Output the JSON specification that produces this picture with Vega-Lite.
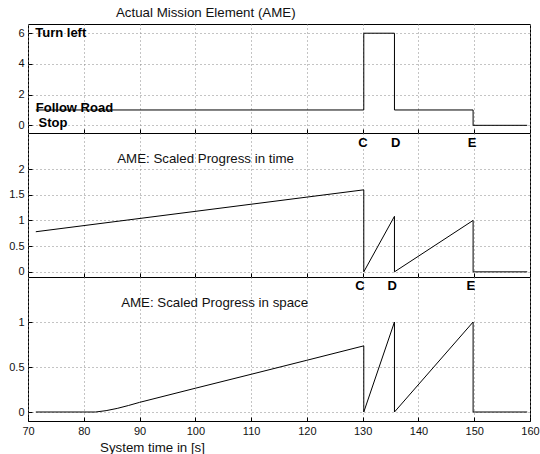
{
  "$schema": "https://vega.github.io/schema/vega-lite/v6.json",
  "autosize": {"type": "pad"},
  "padding": {"left": 8, "top": 5, "right": 0, "bottom": 0},
  "background": "white",
  "spacing": 0,
  "bounds": "flush",
  "config": {
    "font": "Liberation Sans",
    "view": {"stroke": "black", "strokeWidth": 1},
    "axis": {
      "domain": false,
      "gridColor": "#888",
      "gridDash": [1, 3],
      "gridOpacity": 1,
      "gridWidth": 1,
      "tickColor": "black",
      "tickSize": -4,
      "labelPadding": 8,
      "labelFont": "Liberation Sans",
      "labelFontSize": 11,
      "labelColor": "#111",
      "labelOverlap": false,
      "labelFlush": false,
      "titleFont": "Liberation Sans",
      "titleFontWeight": "normal",
      "titleColor": "#111"
    },
    "title": {"font": "Liberation Sans", "fontWeight": "normal", "fontSize": 13.3, "color": "#111"}
  },
  "datasets": {
    "ame": [
      {"i": 0, "t": 71.4, "v": 1},
      {"i": 1, "t": 130.2, "v": 1},
      {"i": 2, "t": 130.2, "v": 6},
      {"i": 3, "t": 135.7, "v": 6},
      {"i": 4, "t": 135.7, "v": 1},
      {"i": 5, "t": 149.8, "v": 1},
      {"i": 6, "t": 149.8, "v": 0},
      {"i": 7, "t": 159.5, "v": 0}
    ],
    "ptime": [
      {"i": 0, "t": 71.4, "v": 0.78},
      {"i": 1, "t": 130.2, "v": 1.595},
      {"i": 2, "t": 130.2, "v": 0},
      {"i": 3, "t": 135.7, "v": 1.08},
      {"i": 4, "t": 135.7, "v": 0},
      {"i": 5, "t": 149.8, "v": 1.0},
      {"i": 6, "t": 149.8, "v": 0},
      {"i": 7, "t": 159.5, "v": 0}
    ],
    "pspace": [
      {"i": 0, "t": 71.4, "v": 0},
      {"i": 1, "t": 82.1, "v": 0},
      {"i": 2, "t": 84, "v": 0.015},
      {"i": 3, "t": 86, "v": 0.04},
      {"i": 4, "t": 88, "v": 0.072},
      {"i": 5, "t": 90, "v": 0.107},
      {"i": 6, "t": 100, "v": 0.264},
      {"i": 7, "t": 110, "v": 0.419},
      {"i": 8, "t": 120, "v": 0.575},
      {"i": 9, "t": 130.2, "v": 0.735},
      {"i": 10, "t": 130.2, "v": 0},
      {"i": 11, "t": 135.7, "v": 1.0},
      {"i": 12, "t": 135.7, "v": 0},
      {"i": 13, "t": 149.8, "v": 1.0},
      {"i": 14, "t": 149.8, "v": 0},
      {"i": 15, "t": 159.5, "v": 0}
    ],
    "lab_top": [
      {"t": 71.3, "v": 6, "txt": "Turn left"},
      {"t": 71.4, "v": 1.1, "txt": "Follow Road"},
      {"t": 71.9, "v": 0.15, "txt": "Stop"}
    ],
    "lab_mid": [
      {"t": 130.05, "v": 2.5, "txt": "C"},
      {"t": 135.9, "v": 2.5, "txt": "D"},
      {"t": 149.6, "v": 2.5, "txt": "E"}
    ],
    "lab_bot": [
      {"t": 129.5, "v": 1.4, "txt": "C"},
      {"t": 135.3, "v": 1.4, "txt": "D"},
      {"t": 149.4, "v": 1.4, "txt": "E"}
    ],
    "cap_mid": [{"t": 86, "v": 2.2, "txt": "AME: Scaled Progress in time"}],
    "cap_bot": [{"t": 86.7, "v": 1.21, "txt": "AME: Scaled Progress in space"}]
  },
  "vconcat": [
    {
      "width": 502,
      "height": 109,
      "title": {"text": "Actual Mission Element (AME)", "anchor": "start", "dx": 88, "offset": 5, "frame": "group"},
      "encoding": {
        "x": {"field": "t", "type": "quantitative", "scale": {"domain": [70, 160], "nice": false, "zero": false},
              "axis": {"values": [70, 80, 90, 100, 110, 120, 130, 140, 150, 160], "labels": false, "title": null, "grid": true}},
        "y": {"field": "v", "type": "quantitative", "scale": {"domain": [-0.5, 6.6], "nice": false},
              "axis": {"values": [0, 2, 4, 6], "format": "d", "title": null, "grid": true}}
      },
      "layer": [
        {
          "data": {"name": "ame"},
          "mark": {"type": "line", "color": "black", "strokeWidth": 1},
          "encoding": {"order": {"field": "i"}}
        },
        {
          "data": {"name": "lab_top"},
          "mark": {"type": "text", "align": "left", "baseline": "middle", "fontWeight": "bold", "fontSize": 13, "color": "black"},
          "encoding": {"text": {"field": "txt"}}
        }
      ]
    },
    {
      "width": 502,
      "height": 144,
      "encoding": {
        "x": {"field": "t", "type": "quantitative", "scale": {"domain": [70, 160], "nice": false, "zero": false},
              "axis": {"values": [70, 80, 90, 100, 110, 120, 130, 140, 150, 160], "labels": false, "title": null, "grid": true}},
        "y": {"field": "v", "type": "quantitative", "scale": {"domain": [-0.1, 2.7], "nice": false},
              "axis": {"values": [0, 0.5, 1, 1.5, 2], "format": "~g", "title": null, "grid": true}}
      },
      "layer": [
        {
          "data": {"name": "ptime"},
          "mark": {"type": "line", "color": "black", "strokeWidth": 1},
          "encoding": {"order": {"field": "i"}}
        },
        {
          "data": {"name": "lab_mid"},
          "mark": {"type": "text", "align": "center", "baseline": "middle", "fontWeight": "bold", "fontSize": 13, "color": "black"},
          "encoding": {"text": {"field": "txt"}}
        },
        {
          "data": {"name": "cap_mid"},
          "mark": {"type": "text", "align": "left", "baseline": "middle", "fontSize": 13.3, "color": "#111"},
          "encoding": {"text": {"field": "txt"}}
        }
      ]
    },
    {
      "width": 502,
      "height": 144,
      "encoding": {
        "x": {"field": "t", "type": "quantitative", "scale": {"domain": [70, 160], "nice": false, "zero": false},
              "axis": {"values": [70, 80, 90, 100, 110, 120, 130, 140, 150, 160], "title": "System time in [s]", "titleFontSize": 13.3, "titleX": 124, "titleAlign": "center", "titlePadding": 4, "grid": true}},
        "y": {"field": "v", "type": "quantitative", "scale": {"domain": [-0.1, 1.5], "nice": false},
              "axis": {"values": [0, 0.5, 1], "format": "~g", "title": null, "grid": true}}
      },
      "layer": [
        {
          "data": {"name": "pspace"},
          "mark": {"type": "line", "color": "black", "strokeWidth": 1},
          "encoding": {"order": {"field": "i"}}
        },
        {
          "data": {"name": "lab_bot"},
          "mark": {"type": "text", "align": "center", "baseline": "middle", "fontWeight": "bold", "fontSize": 13, "color": "black"},
          "encoding": {"text": {"field": "txt"}}
        },
        {
          "data": {"name": "cap_bot"},
          "mark": {"type": "text", "align": "left", "baseline": "middle", "fontSize": 13.3, "color": "#111"},
          "encoding": {"text": {"field": "txt"}}
        }
      ]
    }
  ]
}
